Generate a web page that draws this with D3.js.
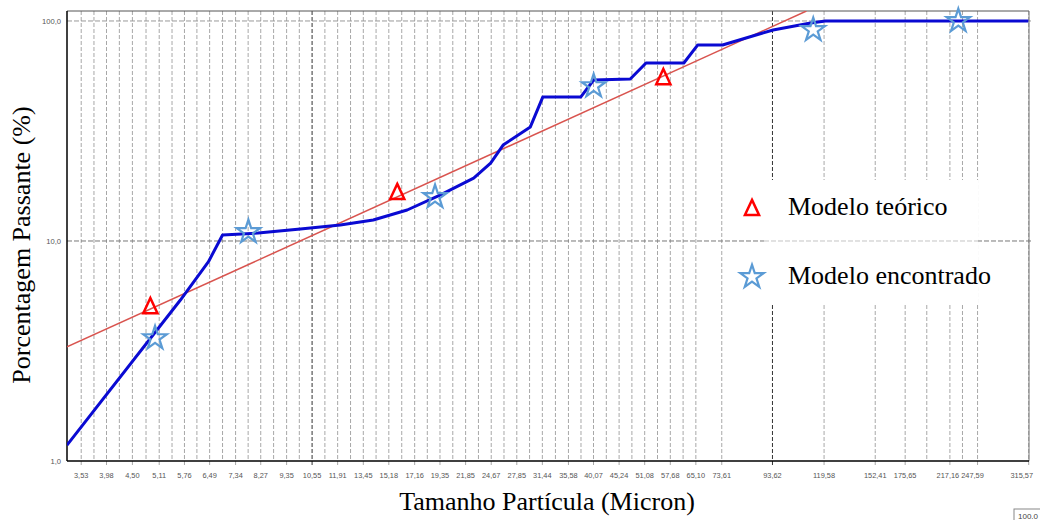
<!DOCTYPE html>
<html lang="pt">
<head>
<meta charset="UTF-8">
<title>Distribuição granulométrica</title>
<style>
  body { margin: 0; background: #fff; }
  svg { display: block; }
</style>
</head>
<body>
<div class="container"></div>
<script src="https://cdn.jsdelivr.net/npm/d3@7/dist/d3.min.js"></script>
<script>
const xTicks = [3.53, 3.98, 4.50, 5.11, 5.76, 6.49, 7.34, 8.27, 9.35, 10.55, 11.91, 13.45, 15.18, 17.16, 19.35, 21.85, 24.67, 27.85, 31.44, 35.58, 40.07, 45.24, 51.08, 57.68, 65.10, 73.61, 93.62, 119.58, 152.41, 175.65, 217.16, 247.59, 315.57]
// classes sem rotulo (linhas de grade intermediarias)
const xMinor = [3.75, 4.23, 4.80, 5.43, 6.11, 6.90, 7.79, 8.79, 9.93, 11.21, 12.66, 14.29, 16.14, 18.22, 20.56, 23.22, 26.21, 29.59, 33.45, 37.76, 42.58, 48.07, 54.28, 61.28, 194.6, 230.5]
const xMajor = [10.55, 93.62]
const yTicks = [1, 10, 100]

// curva medida (Modelo encontrado)
const curveSize = [3.30, 5.65, 6.45, 6.90, 8.17, 9.98, 12.06, 14.1, 16.56, 19.4, 22.7, 24.6, 26.1, 29.7, 31.5, 37.7, 40.1, 47.7, 51.4, 61.5, 65.7, 73.9, 93.9, 112.2, 120.4, 315]
const curvePass = [1.18, 5.39, 8.03, 10.65, 10.87, 11.34, 11.82, 12.46, 13.83, 16.2, 19.3, 22.6, 27.3, 33.0, 45.1, 45.1, 53.9, 54.5, 64.4, 64.4, 77.8, 77.8, 91.0, 97.9, 100, 100]

// reta do modelo teorico
const lineSize = [3.30, 110]
const linePass = [3.30, 111]

const theorySize = [4.90, 15.8, 55.8]
const theoryPass = [5.06, 16.7, 55.6]

const foundSize = [5.01, 7.80, 18.9, 40.1, 113.6, 226]
const foundPass = [3.62, 10.99, 15.85, 50.6, 91, 100]

const width = 1040
const height = 520
const pLeft = 67, pRight = 1029, pTop = 11, pBottom = 461

const svg = d3.select('.container').append('svg')
    .attr('width', width)
    .attr('height', height)

const x = d3.scaleLog().domain([3.30, 316]).range([pLeft, pRight])
const y = d3.scaleLog().domain([1, 111]).range([pBottom, pTop])

const fmt = v => d3.format('.2f')(v).replace('.', ',')

svg.append('clipPath').attr('id', 'plot')
    .append('rect')
    .attr('x', pLeft).attr('y', pTop)
    .attr('width', pRight - pLeft).attr('height', pBottom - pTop)

// grade vertical
const grid = svg.append('g').attr('class', 'grid')
grid.selectAll('line.v')
    .data(xTicks.concat(xMinor))
    .join('line')
    .attr('class', 'v')
    .attr('x1', d => x(d)).attr('x2', d => x(d))
    .attr('y1', pTop).attr('y2', d => xTicks.includes(d) ? pBottom + 4 : pBottom)
    .attr('stroke', d => xMajor.includes(d) ? '#333' : '#a8a8a8')
    .attr('stroke-width', 1)
    .attr('stroke-dasharray', '4,2')

// grade horizontal
grid.selectAll('line.h')
    .data(yTicks.slice(1))
    .join('line')
    .attr('class', 'h')
    .attr('x1', pLeft).attr('x2', pRight + 3)
    .attr('y1', d => y(d)).attr('y2', d => y(d))
    .attr('stroke', d => d === 10 ? '#777' : '#999')
    .attr('stroke-dasharray', '5,2')

// moldura
svg.append('line').attr('x1', pLeft).attr('x2', pRight).attr('y1', pTop).attr('y2', pTop)
    .attr('stroke', '#555')
svg.append('line').attr('x1', pRight).attr('x2', pRight).attr('y1', pTop).attr('y2', pBottom)
    .attr('stroke', '#777')

// legenda (fundo)
svg.append('rect')
    .attr('x', 764).attr('y', 180)
    .attr('width', 214).attr('height', 125)
    .attr('fill', '#fff')

svg.append('line')
    .attr('x1', 764).attr('x2', 978)
    .attr('y1', y(10)).attr('y2', y(10))
    .attr('stroke', '#c4c4c4')
    .attr('stroke-dasharray', '5,2')

// eixos
svg.append('line').attr('x1', pLeft).attr('x2', pLeft).attr('y1', pTop).attr('y2', pBottom)
    .attr('stroke', '#000').attr('stroke-width', 1.5)
svg.append('line').attr('x1', pLeft).attr('x2', pRight).attr('y1', pBottom).attr('y2', pBottom)
    .attr('stroke', '#000').attr('stroke-width', 1.5)

// alguns rotulos deslocados como no original
const labelNudge = { 217.16: -2, 247.59: -5, 315.57: -7 }

svg.append('g')
    .selectAll('text')
    .data(xTicks)
    .join('text')
    .attr('x', d => x(d) + (labelNudge[d] || 0))
    .attr('y', pBottom + 17)
    .attr('text-anchor', 'middle')
    .attr('font-family', 'Arial, "Liberation Sans", sans-serif')
    .attr('font-size', 7.4)
    .attr('fill', '#555')
    .text(fmt)

svg.append('g')
    .selectAll('text')
    .data(yTicks)
    .join('text')
    .attr('x', pLeft - 6)
    .attr('y', d => y(d) + 3)
    .attr('text-anchor', 'end')
    .attr('font-family', 'Arial, "Liberation Sans", sans-serif')
    .attr('font-size', 7.6)
    .attr('fill', '#555')
    .text(d => d3.format('.1f')(d).replace('.', ','))

// series
const plot = svg.append('g').attr('clip-path', 'url(#plot)')

const line = d3.line().x(d => x(d[0])).y(d => y(d[1]))

plot.append('path')
    .datum(d3.zip(lineSize, linePass))
    .attr('d', line)
    .attr('fill', 'none')
    .attr('stroke', '#d9544f')
    .attr('stroke-width', 1.5)

plot.append('path')
    .datum(d3.zip(curveSize, curvePass))
    .attr('d', line)
    .attr('fill', 'none')
    .attr('stroke', '#0a0ad2')
    .attr('stroke-width', 3)
    .attr('stroke-linejoin', 'round')

const tallTriangle = {
    draw(ctx, size) {
        const s = Math.sqrt(size) / 2
        ctx.moveTo(0, -s * 1.15)
        ctx.lineTo(s, s)
        ctx.lineTo(-s, s)
        ctx.closePath()
    }
}
const triSym = d3.symbol().type(tallTriangle).size(200)
const starSym = d3.symbol().type(d3.symbolStar).size(170)

svg.append('g')
    .selectAll('path')
    .data(d3.zip(theorySize, theoryPass))
    .join('path')
    .attr('transform', d => `translate(${x(d[0])},${y(d[1])})`)
    .attr('d', triSym)
    .attr('fill', 'none')
    .attr('stroke', '#ff0000')
    .attr('stroke-width', 2.5)

svg.append('g')
    .selectAll('path')
    .data(d3.zip(foundSize, foundPass))
    .join('path')
    .attr('transform', d => `translate(${x(d[0])},${y(d[1])})`)
    .attr('d', starSym)
    .attr('fill', 'none')
    .attr('stroke', '#5b9bd5')
    .attr('stroke-width', 2.2)

// legenda
const legend = svg.append('g')
legend.append('path')
    .attr('transform', 'translate(752,208)')
    .attr('d', triSym)
    .attr('fill', 'none').attr('stroke', '#ff0000').attr('stroke-width', 2.5)
legend.append('path')
    .attr('transform', 'translate(752,277)')
    .attr('d', starSym)
    .attr('fill', 'none').attr('stroke', '#5b9bd5').attr('stroke-width', 2.2)
legend.selectAll('text')
    .data(['Modelo teórico', 'Modelo encontrado'])
    .join('text')
    .attr('x', 788)
    .attr('y', (d, i) => 215 + i * 69)
    .attr('font-family', '"Liberation Serif", "Times New Roman", serif')
    .attr('font-size', 26)
    .attr('fill', '#000')
    .text(d => d)

// titulos dos eixos
svg.append('text')
    .attr('x', 547).attr('y', 510)
    .attr('text-anchor', 'middle')
    .attr('font-family', '"Liberation Serif", "Times New Roman", serif')
    .attr('font-size', 26)
    .text('Tamanho Partícula (Micron)')

svg.append('text')
    .attr('transform', 'translate(30,245) rotate(-90)')
    .attr('text-anchor', 'middle')
    .attr('font-family', '"Liberation Serif", "Times New Roman", serif')
    .attr('font-size', 26)
    .text('Porcentagem Passante (%)')

// caixa residual do software
svg.append('rect')
    .attr('x', 1014).attr('y', 509).attr('width', 30).attr('height', 14)
    .attr('fill', '#fff').attr('stroke', '#888')
svg.append('text')
    .attr('x', 1018).attr('y', 519)
    .attr('font-family', 'Arial, "Liberation Sans", sans-serif')
    .attr('font-size', 8).attr('fill', '#444')
    .text('100.0')
</script>
</body>
</html>
